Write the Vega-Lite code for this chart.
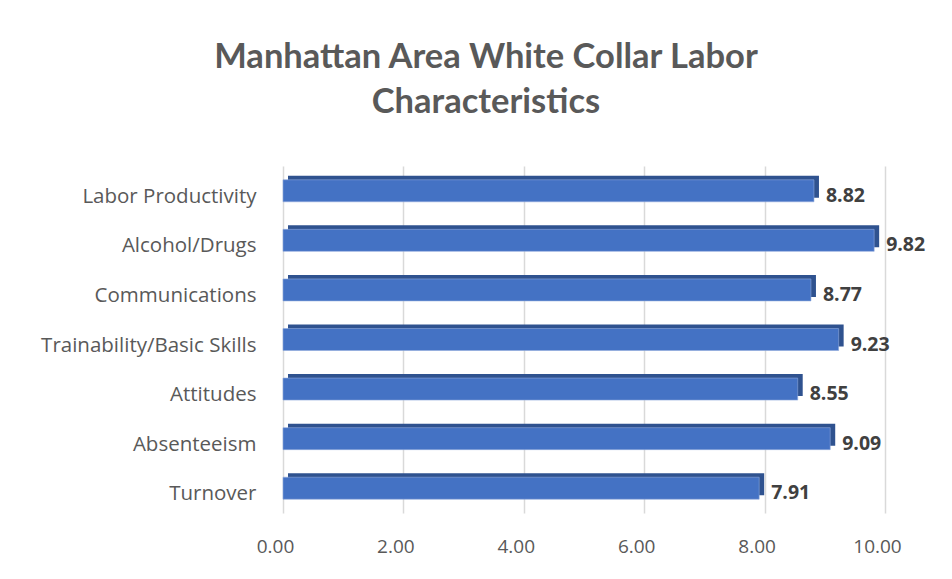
{
  "$schema": "https://vega.github.io/schema/vega-lite/v6.json",
  "autosize": "none",
  "width": 602,
  "height": 347,
  "padding": {"left": 283, "top": 166, "right": 67, "bottom": 66},
  "background": "white",
  "title": {
    "text": ["Manhattan Area White Collar Labor", "Characteristics"],
    "font": "Lato",
    "fontSize": 34.5,
    "fontWeight": "bold",
    "color": "#595959",
    "lineHeight": 45,
    "anchor": "middle",
    "dx": -98,
    "offset": 46
  },
  "data": {
    "values": [
      {"category": "Labor Productivity", "value": 8.82},
      {"category": "Alcohol/Drugs", "value": 9.82},
      {"category": "Communications", "value": 8.77},
      {"category": "Trainability/Basic Skills", "value": 9.23},
      {"category": "Attitudes", "value": 8.55},
      {"category": "Absenteeism", "value": 9.09},
      {"category": "Turnover", "value": 7.91}
    ]
  },
  "encoding": {
    "y": {
      "field": "category",
      "type": "nominal",
      "sort": null,
      "title": null,
      "axis": {
        "domain": false,
        "ticks": false,
        "labelFont": "Open Sans",
        "labelFontSize": 20.5,
        "labelColor": "#595959",
        "labelPadding": 27,
        "labelOffset": 6,
        "labelLimit": 400,
        "grid": false
      }
    },
    "x": {
      "field": "value",
      "type": "quantitative",
      "scale": {"domain": [0, 10], "nice": false},
      "title": null,
      "axis": {
        "values": [0, 2, 4, 6, 8, 10],
        "format": ".2f",
        "domain": false,
        "ticks": false,
        "grid": true,
        "gridColor": "#D9D9D9",
        "gridWidth": 1.5,
        "labelFont": "Open Sans",
        "labelFontSize": 19,
        "labelColor": "#595959",
        "labelPadding": 24,
        "labelFlush": false,
        "labelOffset": -8
      }
    }
  },
  "layer": [
    {
      "mark": {"type": "bar", "size": 22, "color": "#2F528F", "xOffset": 5, "yOffset": -4}
    },
    {
      "mark": {"type": "bar", "size": 22, "color": "#4472C4", "stroke": "#8FAADC", "strokeWidth": 0.6}
    },
    {
      "mark": {"type": "text", "align": "left", "dx": 12, "dy": 5, "font": "Open Sans", "fontSize": 19.5, "fontWeight": "bold", "color": "#404040"},
      "encoding": {"text": {"field": "value", "type": "quantitative", "format": ".2f"}}
    }
  ],
  "config": {"view": {"stroke": null}}
}
